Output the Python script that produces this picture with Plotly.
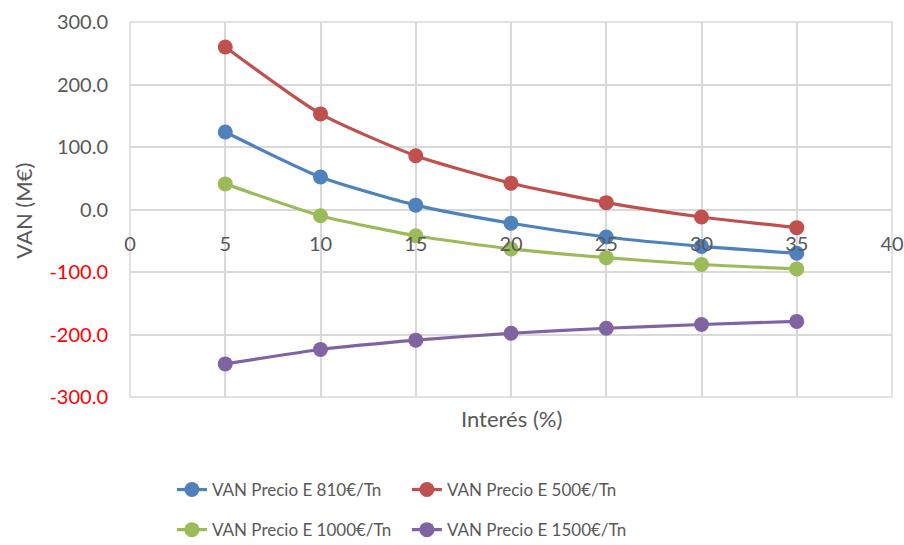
import plotly.graph_objects as go

# Interest rate (%) and net present value (M€) for each energy price scenario
interes = [5, 10, 15, 20, 25, 30, 35]
van_810 = [124, 52, 7, -22, -44, -59, -70]
van_500 = [260, 153, 86, 42, 11, -12, -29]
van_1000 = [41, -10, -42, -63, -77, -88, -95]
van_1500 = [-247, -224, -209, -198, -190, -184, -179]

series_names = ["VAN Precio E 810€/Tn", "VAN Precio E 500€/Tn",
                "VAN Precio E 1000€/Tn", "VAN Precio E 1500€/Tn"]
series_values = [van_810, van_500, van_1000, van_1500]
colors = ["#4F81BD", "#C0504D", "#9BBB59", "#8064A2"]
legend_ids = ["legend", "legend", "legend2", "legend2"]

y_ticks = [300, 200, 100, 0, -100, -200, -300]
y_ticktext = [f"{v:.1f}" if v >= 0 else f'<span style="color:#FF0000">{v:.1f}</span>'
              for v in y_ticks]
x_ticks = [0, 5, 10, 15, 20, 25, 30, 35, 40]

FONT = "Lato"
GREY = "#595959"
GRID = "#D9D9D9"

fig = go.Figure()
for name, vals, col, lg in zip(series_names, series_values, colors, legend_ids):
    fig.add_trace(go.Scatter(
        x=interes, y=vals, name=name, mode="lines+markers",
        line=dict(color=col, width=3.2, shape="spline", smoothing=0.6),
        marker=dict(color=col, size=15),
        legend=lg,
    ))

fig.update_layout(
    width=904, height=545,
    margin=dict(l=130, r=12, t=22, b=148, autoexpand=False),
    paper_bgcolor="white", plot_bgcolor="white",
    font=dict(family=FONT, color=GREY, size=20),
    xaxis=dict(
        range=[0, 40], tickvals=x_ticks, showgrid=True, gridcolor=GRID, gridwidth=1.5,
        zeroline=False, showline=False, anchor="free", position=0.5,
        ticks="", ticklabelstandoff=20, tickfont=dict(size=20, color=GREY),
    ),
    yaxis=dict(
        range=[-300, 300], tickvals=y_ticks, ticktext=y_ticktext,
        showgrid=True, gridcolor=GRID, gridwidth=1.5, zeroline=True,
        zerolinecolor=GRID, zerolinewidth=1.5, showline=False,
        ticks="", ticklabelstandoff=21, tickfont=dict(size=20, color=GREY),
    ),
    shapes=[dict(type="rect", xref="paper", yref="paper", x0=0, x1=1, y0=0, y1=1,
                 line=dict(color=GRID, width=1.5), layer="below")],
    showlegend=True,
    legend=dict(orientation="h", x=0.055, xanchor="left", y=-0.248, yanchor="middle",
                entrywidth=190, entrywidthmode="pixels",
                font=dict(size=17, color=GREY), bgcolor="rgba(0,0,0,0)"),
    legend2=dict(orientation="h", x=0.055, xanchor="left", y=-0.355, yanchor="middle",
                 entrywidth=190, entrywidthmode="pixels",
                 font=dict(size=17, color=GREY), bgcolor="rgba(0,0,0,0)"),
    annotations=[
        dict(text="Interés (%)", xref="paper", yref="paper", x=0.5, y=-0.056,
             xanchor="center", yanchor="middle", showarrow=False,
             font=dict(size=22, color=GREY)),
        dict(text="VAN (M€)", xref="paper", yref="paper", x=-0.139, y=0.497,
             xanchor="center", yanchor="middle", showarrow=False, textangle=-90,
             font=dict(size=22, color=GREY)),
    ],
)

fig.write_html("out.html")
